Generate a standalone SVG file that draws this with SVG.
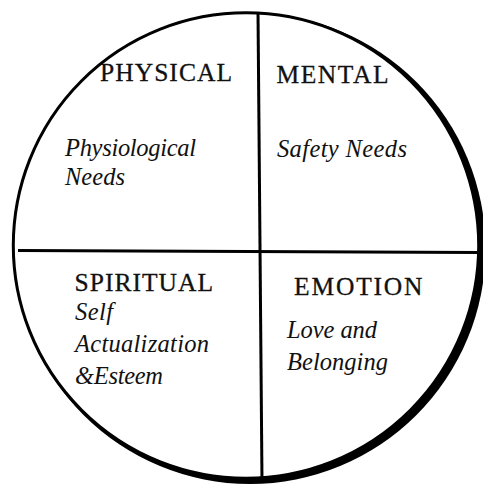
<svg xmlns="http://www.w3.org/2000/svg" width="483" height="487" viewBox="0 0 483 487">
  <style>
    .head { font-family: "Liberation Serif", "Times New Roman", serif; font-size: 25.5px; fill: #111; stroke: #111; stroke-width: 0.3; }
    .sub { font-family: "Liberation Serif", "Times New Roman", serif; font-style: italic; font-size: 24.5px; fill: #111; }
    .div { stroke: #000; stroke-width: 3; fill: none; stroke-linecap: butt; }
  </style>
  <rect width="483" height="487" fill="#fff"/>
  <g id="frame">
    <circle cx="250" cy="248.5" r="235.5" fill="#000"/>
    <circle cx="246" cy="245.5" r="232.7" fill="#fff" stroke="#000" stroke-width="3"/>
  </g>
  <g id="connectors">
    <line class="div" x1="258" y1="12" x2="262" y2="481"/>
    <line class="div" x1="18" y1="250.5" x2="478" y2="252.5"/>
  </g>
  <g id="physical">
    <text class="head" x="100" y="81" textLength="132">PHYSICAL</text>
    <text class="sub" x="65" y="156" textLength="131">Physiological</text>
    <text class="sub" x="65" y="185" textLength="60">Needs</text>
  </g>
  <g id="mental">
    <text class="head" x="276.5" y="82.5" textLength="112">MENTAL</text>
    <text class="sub" x="277" y="156.5" textLength="130">Safety Needs</text>
  </g>
  <g id="spiritual">
    <text class="head" x="74.5" y="291" textLength="138.5">SPIRITUAL</text>
    <text class="sub" x="75" y="319.5" textLength="38">Self</text>
    <text class="sub" x="75" y="351.5" textLength="134">Actualization</text>
    <text class="sub" x="75" y="383.5" textLength="88">&amp;Esteem</text>
  </g>
  <g id="emotion">
    <text class="head" x="294" y="295" textLength="128.5">EMOTION</text>
    <text class="sub" x="287" y="338" textLength="90">Love and</text>
    <text class="sub" x="287" y="370" textLength="101">Belonging</text>
  </g>
</svg>
